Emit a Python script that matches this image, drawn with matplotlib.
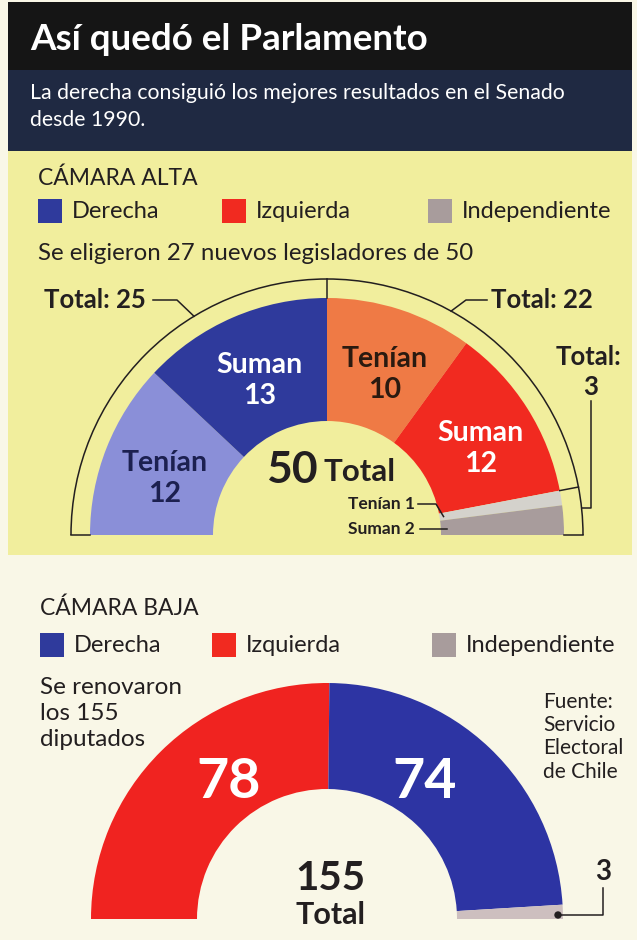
import numpy as np
import matplotlib.pyplot as plt
from matplotlib.patches import Wedge, Arc, Rectangle, Circle

plt.rcParams['font.family'] = ['Lato', 'DejaVu Sans']

# Cámara alta (Senado), de izquierda a derecha
senado_etiquetas = ["Tenían", "Suman", "Tenían", "Suman", "Tenían", "Suman"]
senado_bloques = ["Derecha", "Derecha", "Izquierda", "Izquierda", "Independiente", "Independiente"]
senado_escanos = [12, 13, 10, 12, 1, 2]
senado_colores = ["#8a8fd8", "#2f3a9c", "#ef7a45", "#f12a20", "#d4d2cc", "#a89c9c"]

# Cámara baja (Diputados), de izquierda a derecha
diputados_bloques = ["Izquierda", "Derecha", "Independiente"]
diputados_escanos = [78, 74, 3]
diputados_colores = ["#f02320", "#2d34a3", "#cdbfbf"]

leyenda_etiquetas = ["Derecha", "Izquierda", "Independiente"]
leyenda_colores = ["#2f3a9c", "#f12a20", "#a89c9c"]

TXT = "#231f20"

fig = plt.figure(figsize=(6.37, 9.40), dpi=100, facecolor="#f9f7e7")
ax = fig.add_axes([0, 0, 1, 1])
ax.set_xlim(0, 637)
ax.set_ylim(940, 0)
ax.set_aspect("equal")
ax.axis("off")


def punto(cx, base, r, ang):
    # ang: grados medidos desde el extremo izquierdo, en sentido horario
    a = np.radians(ang)
    return cx - r * np.cos(a), base - r * np.sin(a)


def semicirculo(cx, base, r_ext, r_int, escanos, colores):
    paso = 180 / sum(escanos)
    bordes = np.concatenate([[0], np.cumsum(escanos)]) * paso
    for i, c in enumerate(colores):
        ax.add_patch(Wedge((cx, base), r_ext, bordes[i] - 180, bordes[i + 1] - 180,
                           width=r_ext - r_int, facecolor=c, edgecolor="none", zorder=3))
    return bordes


def leyenda(y, xs):
    for x, lab, col in zip(xs, leyenda_etiquetas, leyenda_colores):
        ax.add_patch(Rectangle((x, y - 12), 24, 24, facecolor=col, edgecolor="none", zorder=3))
        ax.text(x + 34, y, lab, fontsize=17, color=TXT, va="center", ha="left")


# Fondos
ax.add_patch(Rectangle((8, 2), 624, 68, facecolor="#151515", edgecolor="none"))
ax.add_patch(Rectangle((8, 70), 624, 81, facecolor="#1f2942", edgecolor="none"))
ax.add_patch(Rectangle((8, 151), 624, 404, facecolor="#f1ee9d", edgecolor="none"))

ax.text(30, 40, "Así quedó el Parlamento", fontsize=26.5, fontweight="bold",
        color="white", va="center", ha="left")
ax.text(30, 93, "La derecha consiguió los mejores resultados en el Senado",
        fontsize=15.3, color="white", va="center", ha="left")
ax.text(30, 120, "desde 1990.", fontsize=15.3, color="white", va="center", ha="left")

# ---- Cámara alta ----
ax.text(38, 178, "CÁMARA ALTA", fontsize=16.5, color=TXT, va="center", ha="left")
leyenda(211, [38, 222, 428])
ax.text(38, 254, "Se eligieron 27 nuevos legisladores de 50", fontsize=17.3,
        color=TXT, va="center", ha="left")

cx, base, R, r = 327, 535, 237, 114
rb = 256
bordes = semicirculo(cx, base, R, r, senado_escanos, senado_colores)

# etiquetas dentro de los sectores grandes
colores_txt = ["#1c2050", "white", "#2a1a10", "white"]
for i in range(4):
    ang = (bordes[i] + bordes[i + 1]) / 2
    x, y = punto(cx, base, 178, ang)
    ax.text(x + 3, y + 9, f"{senado_etiquetas[i]}\n{senado_escanos[i]}", fontsize=20.5,
            fontweight="bold", color=colores_txt[i], ha="center", va="center",
            linespacing=1.22, zorder=5)

total_sen = sum(senado_escanos)
ax.text(318, 470, str(total_sen), fontsize=32, fontweight="bold", color=TXT,
        ha="right", va="center", zorder=5)
ax.text(323, 472, "Total", fontsize=22.5, fontweight="bold", color=TXT,
        ha="left", va="center", zorder=5)

# llaves de totales por bloque
tot_der = sum(senado_escanos[0:2])
tot_izq = sum(senado_escanos[2:4])
tot_ind = sum(senado_escanos[4:6])
lw = 1.1
ax.add_patch(Arc((cx, base), 2 * rb, 2 * rb, theta1=-180, theta2=0, color=TXT, lw=lw, zorder=4))
ax.plot([cx - rb, cx - R], [base, base], color=TXT, lw=lw, zorder=4)
ax.plot([cx + rb, cx + R], [base, base], color=TXT, lw=lw, zorder=4)
ax.plot([cx, cx], [base - rb, base - R], color=TXT, lw=lw, zorder=4)
p1 = punto(cx, base, R, bordes[4])
p2 = punto(cx, base, rb, bordes[4])
ax.plot([p1[0], p2[0]], [p1[1], p2[1]], color=TXT, lw=lw, zorder=4)

ax.text(146, 300, f"Total: {tot_der}", fontsize=18.5, fontweight="bold", color=TXT,
        ha="right", va="center")
q = punto(cx, base, rb, 58.7)
ax.plot([153, 177, q[0]], [300, 300, q[1]], color=TXT, lw=lw)
ax.text(491, 300, f"Total: {tot_izq}", fontsize=18.5, fontweight="bold", color=TXT,
        ha="left", va="center")
q = punto(cx, base, rb, 119)
ax.plot([487, 466, q[0]], [300, 300, q[1]], color=TXT, lw=lw)
ax.text(621, 357, "Total:", fontsize=18.5, fontweight="bold", color=TXT, ha="right", va="center")
ax.text(591, 387, str(tot_ind), fontsize=18.5, fontweight="bold", color=TXT, ha="center", va="center")
yq = 508
xq = cx + np.sqrt(rb ** 2 - (base - yq) ** 2)
ax.plot([591, 591, xq], [401, yq, yq], color=TXT, lw=lw)

ax.text(415, 504, f"{senado_etiquetas[4]} {senado_escanos[4]}", fontsize=12.5,
        fontweight="bold", color=TXT, ha="right", va="center")
q = punto(cx, base, r + 4, (bordes[4] + bordes[5]) / 2)
ax.plot([418, 436, q[0]], [504, 504, q[1]], color=TXT, lw=lw, zorder=4)
ax.text(415, 529, f"{senado_etiquetas[5]} {senado_escanos[5]}", fontsize=12.5,
        fontweight="bold", color=TXT, ha="right", va="center")
ax.plot([420, 447], [529, 529], color=TXT, lw=lw, zorder=4)

# ---- Cámara baja ----
ax.text(40, 608, "CÁMARA BAJA", fontsize=16.5, color=TXT, va="center", ha="left")
leyenda(645, [40, 212, 432])
ax.text(40, 677, "Se renovaron\nlos 155\ndiputados", fontsize=17.5, color=TXT,
        va="top", ha="left", linespacing=1.3)
ax.text(543, 692, "Fuente:\nServicio\nElectoral\nde Chile", fontsize=15, color=TXT,
        va="top", ha="left", linespacing=1.2)

cx2, base2, R2, r2 = 327, 919, 236, 130
bordes2 = semicirculo(cx2, base2, R2, r2, diputados_escanos, diputados_colores)
ax.text(229, 782, str(diputados_escanos[0]), fontsize=40, fontweight="bold",
        color="white", ha="center", va="center", zorder=5)
ax.text(425, 782, str(diputados_escanos[1]), fontsize=40, fontweight="bold",
        color="white", ha="center", va="center", zorder=5)
ax.text(330, 879, str(sum(diputados_escanos)), fontsize=29, fontweight="bold",
        color=TXT, ha="center", va="center", zorder=5)
ax.text(330, 915, "Total", fontsize=22, fontweight="bold", color=TXT,
        ha="center", va="center", zorder=5)

ax.text(603, 872, str(diputados_escanos[2]), fontsize=20, fontweight="bold",
        color=TXT, ha="center", va="center")
ax.plot([558, 603, 603], [915, 915, 888], color=TXT, lw=lw, zorder=4)
ax.add_patch(Circle((558, 915), 3, color=TXT, zorder=5))

fig.savefig("out.png", dpi=100, facecolor=fig.get_facecolor())
